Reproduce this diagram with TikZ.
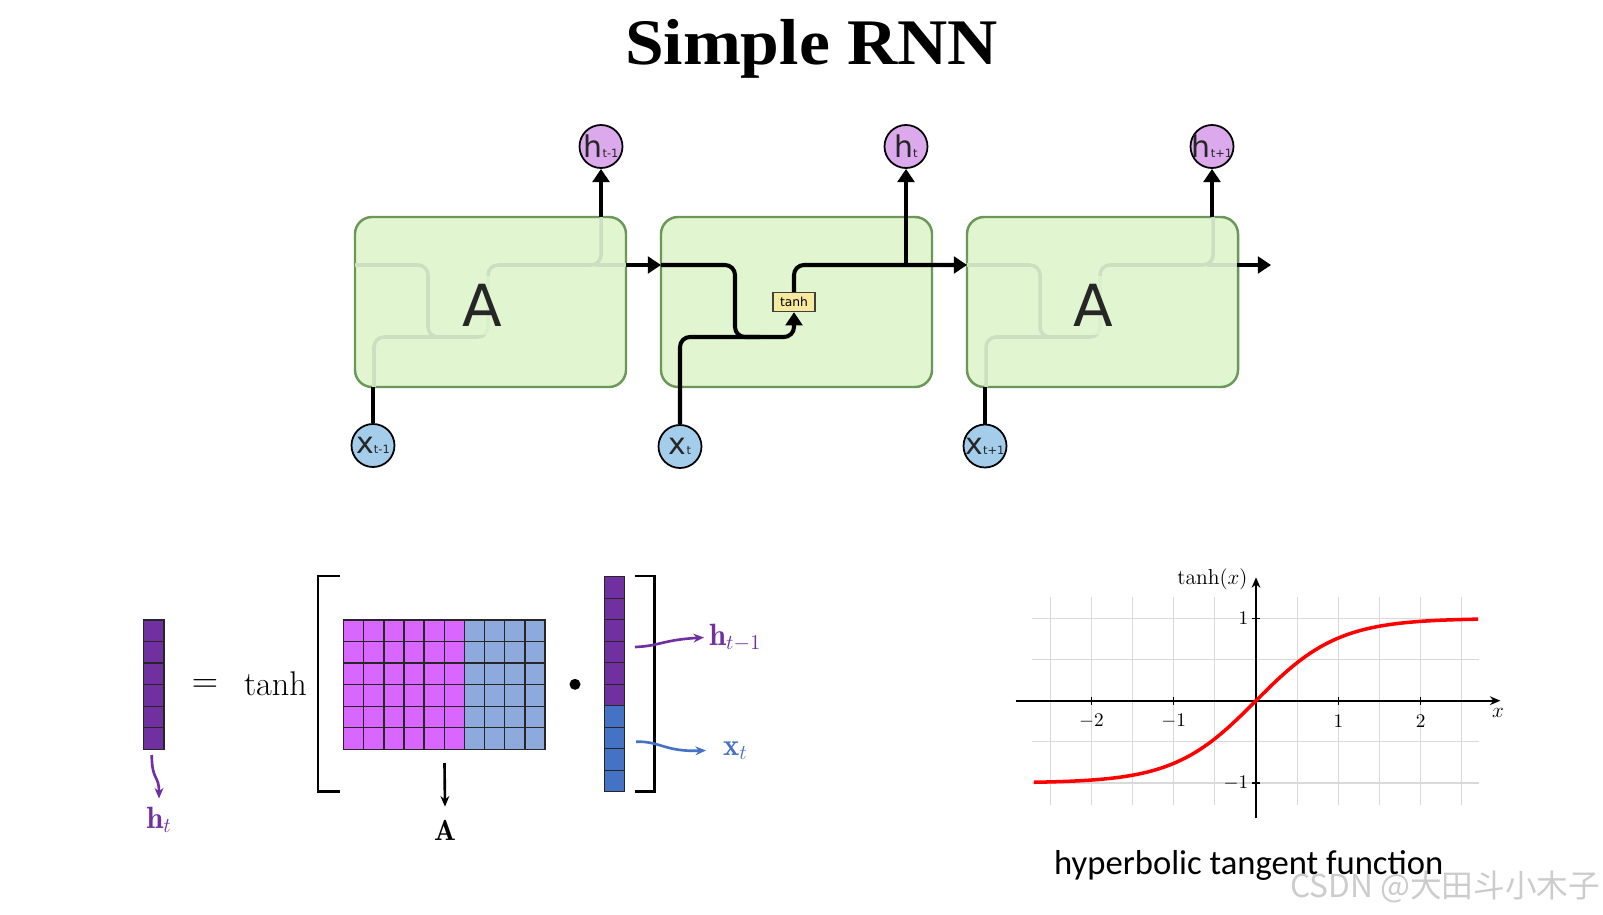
\documentclass[tikz,border=0pt]{standalone}
\usepackage{fontspec}
\usetikzlibrary{arrows.meta}
\newfontfamily\dvsans{DejaVu Sans}
\newfontfamily\ttlfont{Liberation Serif}
\newfontfamily\calfont{Carlito}
\newfontfamily\cjkfont{Noto Sans CJK SC}
\definecolor{boxfill}{HTML}{E0F5D0}
\definecolor{boxdraw}{HTML}{6B9858}
\definecolor{faintc}{HTML}{CDDEC1}
\definecolor{hfill}{HTML}{DCA9EC}
\definecolor{xfill}{HTML}{A4CDEC}
\definecolor{tanhfill}{HTML}{F6EA9E}
\definecolor{vpurple}{HTML}{7030A0}
\definecolor{magc}{HTML}{D966FF}
\definecolor{lbluec}{HTML}{8EA9DB}
\definecolor{vblue}{HTML}{4472C4}
\newcommand\csub[1]{{\fontsize{6.5}{6.5}\selectfont #1}}
\begin{document}
\begin{tikzpicture}[x=0.2mm,y=-0.2mm,
  cellbox/.style={rectangle, rounded corners=3.4mm, draw=boxdraw, line width=1.4pt, fill=boxfill, minimum width=54.2mm, minimum height=34mm, inner sep=0pt},
  faint/.style={draw=faintc, line width=2pt, rounded corners=2mm},
  blk/.style={draw=black, line width=2.3pt, rounded corners=2mm},
  arr/.style={-{Triangle[length=7.5pt,width=9.5pt]}},
  anode/.style={circle, fill=boxfill, fill opacity=0.75, text opacity=1, inner sep=0pt, minimum size=12mm, font=\dvsans\fontsize{33}{33}\selectfont, text=black!85},
  hcirc/.style={circle, draw=black, line width=1pt, fill=hfill, minimum size=8.6mm, inner sep=0pt},
  xcirc/.style={circle, draw=black, line width=1pt, fill=xfill, minimum size=8.6mm, inner sep=0pt},
  cirtxt/.style={font=\dvsans\fontsize{17}{17}\selectfont, text=black!85, inner sep=0pt},
  tanhbox/.style={rectangle, draw=black!75, line width=0.8pt, fill=tanhfill, minimum width=8.4mm, minimum height=3.8mm, inner sep=0pt, font=\dvsans\fontsize{7}{7}\selectfont},
  cellst/.style={draw=black!85, line width=0.8pt},
  brk/.style={draw=black, line width=1.7pt},
  sq/.style={line width=1.5pt, -{Stealth[length=6pt,width=5pt]}},
  lbl/.style={inner sep=1pt, font=\fontsize{17.5}{18}\selectfont}
]
\useasboundingbox (0,0) rectangle (1603,915);
\fill[white] (0,0) rectangle (1603,915);

% title
\node[anchor=base, xscale=1.07, inner sep=0pt, font=\ttlfont\bfseries\fontsize{37}{37}\selectfont] (title) at (811.5,65) {Simple RNN};

% cells
\node[cellbox] (b1) at (490.5,302) {};
\node[cellbox] (b2) at (796.5,302) {};
\node[cellbox] (b3) at (1102.5,302) {};

% faint internal routes of the outer cells
\foreach \L in {355,967} {
  \draw[faint] (\L,265) -- (\L+73,265) -- (\L+73,337) -- (\L+100,337);
  \draw[faint] (\L+19,387) -- (\L+19,337) -- (\L+133,337) -- (\L+133,265) -- (\L+246,265) -- (\L+246,217);
  \draw[faint] (\L+240,265) -- (\L+271,265);
}
\node[anode] (a1) at (482,305) {A};
\node[anode] (a3) at (1093,305) {A};

% circles
\node[hcirc, label={[cirtxt]center:h\csub{t-1}}] (h1) at (601,146.5) {};
\node[hcirc, label={[cirtxt]center:h\csub{t}}] (h2) at (906,146.5) {};
\node[hcirc, label={[cirtxt]center:h\csub{t+1}}] (h3) at (1212,146.5) {};
\node[xcirc, label={[cirtxt]center:x\csub{t-1}}] (x1) at (373,445.5) {};
\node[xcirc, label={[cirtxt]center:x\csub{t}}] (x2) at (680,446.5) {};
\node[xcirc, label={[cirtxt]center:x\csub{t+1}}] (x3) at (985,446) {};

% tanh box
\node[tanhbox] (tb) at (794,302) {tanh};

% coordinates
\coordinate (o1) at (626,265);
\coordinate (i2) at (661,265);
\coordinate (i3) at (967,265);
\coordinate (o3) at (1237,265);
\coordinate (e3) at (1271,265);
\coordinate (t1) at (601,217);
\coordinate (j2) at (906,265);
\coordinate (t3) at (1212,217);
\coordinate (xb1) at (373,387);
\coordinate (xb3) at (985,387);
\coordinate (m1) at (735,265);
\coordinate (m2) at (735,337);
\coordinate (m3) at (760,337);
\coordinate (n1) at (680,337);
\coordinate (n2) at (794,337);
\coordinate (n3) at (794,265);

% black routes
\draw[blk, arr] (o1) -- (i2);
\draw[blk] (i2) -- (m1) -- (m2) -- (m3);
\draw[blk, arr] (x2.north) -- (n1) -- (n2) -- (tb.south);
\draw[blk, arr] (tb.north) -- (n3) -- (i3);
\draw[blk, arr] (j2) -- (h2.south);
\draw[blk, arr] (t1) -- (h1.south);
\draw[blk, arr] (t3) -- (h3.south);
\draw[blk, arr] (o3) -- (e3);
\draw[blk] (x1.north) -- (xb1);
\draw[blk] (x3.north) -- (xb3);

% ---------- equation ----------
\foreach \r in {0,...,5}
  \draw[cellst, fill=vpurple] (143.3,620+\r*21.55) rectangle ++(20.7,21.55);
\node[inner sep=0pt, anchor=center, font=\fontsize{19.5}{20}\selectfont] (eq) at (205,686) {$=$};
\node[inner sep=0pt, anchor=base, font=\fontsize{19.5}{20}\selectfont] (tanhtxt) at (275.5,695) {tanh};
\draw[brk] (340,576) -- (318,576) -- (318,791) -- (340,791);
\foreach \c in {0,...,5}
  \foreach \r in {0,...,5}
    \draw[cellst, fill=magc] (343.5+\c*20.15,620+\r*21.55) rectangle ++(20.15,21.55);
\foreach \c in {6,...,9}
  \foreach \r in {0,...,5}
    \draw[cellst, fill=lbluec] (343.5+\c*20.15,620+\r*21.55) rectangle ++(20.15,21.55);
\node[circle, fill=black, inner sep=0pt, minimum size=2.2mm] (dot) at (575,684.3) {};
\foreach \r in {0,...,5}
  \draw[cellst, fill=vpurple] (604.3,576.7+\r*21.5) rectangle ++(20,21.5);
\foreach \r in {6,...,9}
  \draw[cellst, fill=vblue] (604.3,576.7+\r*21.5) rectangle ++(20,21.5);
\draw[brk] (635,576) -- (654.3,576) -- (654.3,791) -- (635,791);

% labels
\node[lbl, anchor=base, text=vpurple] (lht) at (159,828) {$\mathbf{h}_t$};
\node[lbl, anchor=base, font=\fontsize{16.5}{17}\selectfont] (lA) at (445,840) {$\mathbf{A}$};
\node[lbl, anchor=base west, text=vpurple] (lh) at (707,645) {$\mathbf{h}_{t-1}$};
\node[lbl, anchor=base west, text=vblue] (lx) at (721,755) {$\mathbf{x}_t$};

\coordinate (sh) at (151.7,755);
\coordinate (sa) at (444.5,763);
\coordinate (s1) at (635,647);
\coordinate (s2) at (636,741.7);
\draw[sq, vpurple] (sh) .. controls (152,782) and (159,774) .. ([yshift=1.2mm]lht.north);
\draw[sq, black] (sa) -- ([yshift=2.2mm]lA.north);
\draw[sq, vpurple] (s1) .. controls (660,646) and (662,640) .. ([xshift=-0.6mm]lh.west);
\draw[sq, vblue] (s2) .. controls (660,741) and (665,752) .. ([xshift=-3mm]lx.west);

% ---------- tanh plot ----------
\begin{scope}[shift={(1256,700.7)}, x=16.46mm, y=16.46mm]
  \foreach \gx in {-2.5,-2,-1.5,-1,-0.5,0.5,1,1.5,2,2.5}
    \draw[gray!30, line width=0.6pt] (\gx,-1.27) -- (\gx,1.26);
  \foreach \gy in {-1,-0.5,0.5,1}
    \draw[gray!30, line width=0.6pt] (-2.725,\gy) -- (2.71,\gy);
  \coordinate (xl) at (-2.92,0);
  \coordinate (xr) at (2.97,0);
  \coordinate (yb) at (0,-1.43);
  \coordinate (yt) at (0,1.5);
  \draw[line width=1pt, -{Stealth[length=6pt,width=5pt]}] (xl) -- (xr);
  \draw[line width=1pt, -{Stealth[length=6pt,width=5pt]}] (yb) -- (yt);
  \foreach \t in {-2,-1,1,2} {
    \draw[line width=0.8pt] (\t,-0.05) -- (\t,0.05);
    \node[font=\fontsize{11}{11}\selectfont, inner sep=0pt] (tk\t) at (\t,-0.25) {$\t$};
  }
  \foreach \t in {-1,1} {
    \draw[line width=0.8pt] (-0.05,\t) -- (0.05,\t);
    \node[font=\fontsize{11}{11}\selectfont, inner sep=0pt, anchor=east] (ty\t) at (-0.09,\t) {$\t$};
  }
  \node[font=\fontsize{12.3}{12}\selectfont, inner sep=0pt, anchor=east] (ylab) at (-0.1,1.47) {$\tanh(x)$};
  \node[font=\fontsize{12.3}{12}\selectfont, inner sep=0pt] (xlab) at (2.94,-0.15) {$x$};
  \draw[red, line width=2pt, domain=-2.7:2.7, samples=90, smooth] plot (\x,{tanh(\x)});
\end{scope}

\node[anchor=base west, inner sep=0pt, font=\calfont\fontsize{19.7}{20}\selectfont] (cap) at (1053.8,874) {hyperbolic tangent function};
\node[anchor=base west, inner sep=0pt, text=gray!40, font=\cjkfont\fontsize{18}{18}\selectfont] (wm) at (1290,897) {CSDN @大田斗小木子};
\end{tikzpicture}
\end{document}
